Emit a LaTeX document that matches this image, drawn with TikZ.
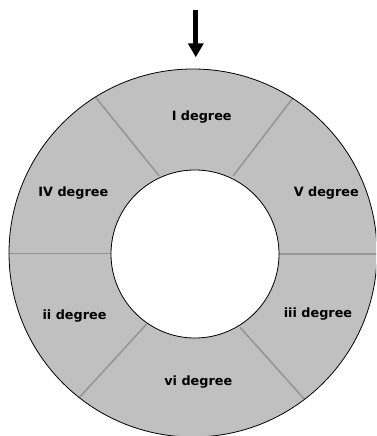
\documentclass[tikz,border=0pt]{standalone}
\usepackage{fontspec}
\setmainfont{DejaVu Sans}
\usetikzlibrary{arrows.meta}
\definecolor{ringfill}{RGB}{192,192,192}
\definecolor{divider}{RGB}{150,150,150}
\tikzset{
  seglabel/.style={anchor=base, inner sep=0pt, font=\fontsize{12.8}{15}\selectfont\bfseries},
  divline/.style={draw=divider, line width=1.6pt},
  ringline/.style={draw=black, line width=0.8pt},
  pointer/.style={line width=5pt, line cap=butt, -{Triangle[width=15pt,length=14pt]}}
}
\begin{document}
\begin{tikzpicture}[x=1pt,y=-1pt]
\useasboundingbox (0,0) rectangle (376,436);
\clip (0,0) rectangle (376,436);
\coordinate (co) at (193,253);
\coordinate (ci) at (195,254);
% ring
\fill[ringfill, even odd rule] (co) circle (184) (ci) circle (84);
% dividers
\coordinate (d1o) at (96,97.7);   \coordinate (d1i) at (159,175.7);
\coordinate (d2o) at (292.7,98.3); \coordinate (d2i) at (233.3,175.7);
\coordinate (d3o) at (5,253.3);   \coordinate (d3i) at (111,253.3);
\coordinate (d4o) at (380,254);   \coordinate (d4i) at (279,254);
\coordinate (d5o) at (78,399);    \coordinate (d5i) at (146.7,324);
\coordinate (d6o) at (306,401);   \coordinate (d6i) at (240,327.3);
\begin{scope}[even odd rule]
\clip (co) circle (184) (ci) circle (84);
\draw[divline] (d1o) -- (d1i);
\draw[divline] (d2o) -- (d2i);
\draw[divline] (d3o) -- (d3i);
\draw[divline] (d4o) -- (d4i);
\draw[divline] (d5o) -- (d5i);
\draw[divline] (d6o) -- (d6i);
\end{scope}
\draw[ringline] (co) circle (184);
\draw[ringline] (ci) circle (84);
% labels
\node[seglabel] (s1) at (201.7,120.5) {I degree};
\node[seglabel] (s4) at (73.3,196.7) {IV degree};
\node[seglabel] (s5) at (326.3,196.7) {V degree};
\node[seglabel] (s2) at (74.5,319.3) {ii degree};
\node[seglabel] (s3) at (318,317.3) {iii degree};
\node[seglabel] (s6) at (198.3,385) {vi degree};
% arrow
\coordinate (arrowtop) at (195.8,10);
\coordinate (arrowtip) at (195.8,57.3);
\draw[pointer] (arrowtop) -- (arrowtip);
\end{tikzpicture}
\end{document}
